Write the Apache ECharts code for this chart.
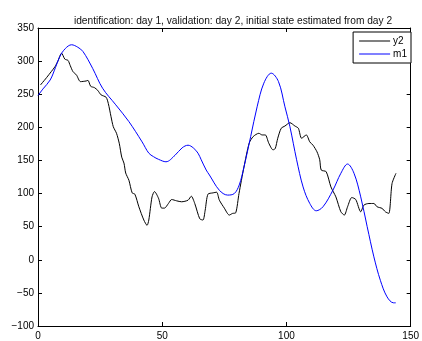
<!DOCTYPE html>
<html>
<head>
<meta charset="utf-8">
<script src="https://cdn.jsdelivr.net/npm/echarts@6/dist/echarts.min.js"></script>
<style>
  html, body { margin: 0; padding: 0; background: #fff; }
  #chart { width: 422px; height: 341px; }
</style>
</head>
<body>
<div id="chart"></div>
<script>
// Measured output y2 (day 2)
const y2X = [1, 3, 4.9, 6.9, 8, 9.5, 10.8, 12.1, 13, 14.1, 15.5, 17.1, 19.4, 20.1, 21.2, 22.7, 24, 25.4, 27.4, 28.3,
  29.4, 30.3, 31.6, 32.7, 33.7, 34.6, 35.3, 36.6, 37.9, 39, 40.6, 42.6, 43.9, 44.6, 45.9, 46.9, 48.5, 49.8, 50.9, 52.5,
  53.8, 55.8, 57.8, 60.4, 61.7, 63.1, 65.1, 66.4, 67.3, 68.4, 70.4, 71.9, 73, 75, 77, 78.3, 79.6, 80.9, 82.9, 85,
  86.6, 88.9, 90.2, 91.5, 92.9, 94.6, 95.5, 96.5, 97.9, 99.4, 101.4, 103.4, 104.8, 106.1, 108, 109.4, 110.7, 112.3, 113.4, 114,
  116, 117.9, 119.9, 121.9, 123.3, 124.6, 126.3, 127.9, 129.9, 131.2, 133.2, 135.2, 136.5, 138.5, 139.8, 141.2, 142.5, 144.1];
const y2Y = [264, 273, 282, 292, 300, 312, 303, 301, 293, 284, 279, 269, 270, 271, 262, 260, 256, 249, 245.5, 236,
  216, 201, 191, 176, 155, 146, 131, 120, 101, 99, 80, 60, 52, 60, 95, 103, 93, 78, 78, 85,
  91, 89, 87.6, 90, 96, 85, 62, 60, 75, 99, 101, 102, 90, 78, 67.5, 70, 71, 100, 140, 176,
  186, 191, 188.5, 188.5, 176, 166, 168, 183.5, 198.6, 202, 207, 202, 198.6, 183.5, 188.5, 178, 173, 163, 151, 135.5,
  133, 110, 95, 72.5, 67.5, 80, 94, 91, 72.5, 82.6, 85, 85, 80, 77.6, 72.5, 70, 115, 130.6];

// Simulated model output m1
const m1X = [0, 2, 4.9, 7, 8.8, 11, 13.5, 16, 18.1, 22, 26, 31.3, 36.6, 41.9, 44.6, 46.5, 48.5, 51.5, 55.2, 58,
  60.4, 62.5, 64.4, 65.7, 67.7, 69, 73, 76.3, 79, 81, 82.9, 85.6, 88.2, 90.9, 93.9, 96.8, 99.4, 101.4, 104.1, 106.7,
  109.4, 112, 114.7, 118.7, 121.9, 124.6, 127.2, 129.9, 132.5, 135.2, 137.8, 140.5, 143.1, 144];
const m1Y = [248, 258, 271.5, 290, 307, 319, 324.7, 321, 314.5, 289, 259, 234, 208.6, 178, 161, 155.7, 151.7, 148, 158, 169,
  173, 169, 161, 151, 135.5, 128, 105, 97.7, 100, 113, 140, 186, 231, 266.7, 281.8, 269, 231, 201, 151, 110,
  85, 74, 80, 105, 130.6, 144.6, 130.6, 95, 50, 4.4, -31, -56, -65, -65];

const xTicks = [0, 50, 100, 150];
const yTicks = [-100, -50, 0, 50, 100, 150, 200, 250, 300, 350];

const pairs = (xs, ys) => xs.map((x, i) => [x, ys[i]]);
const FONT = "'Liberation Sans', Arial, Helvetica, sans-serif";

const chart = echarts.init(document.getElementById('chart'), null, { renderer: 'canvas' });

const baseAxis = {
  type: 'value',
  axisLine: { show: true, onZero: false, lineStyle: { color: '#000', width: 1 } },
  axisTick: { show: true, inside: true, length: 4, lineStyle: { color: '#000' } },
  splitLine: { show: false },
  axisLabel: { color: '#000', fontSize: 10, fontFamily: FONT }
};

chart.setOption({
  animation: false,
  backgroundColor: '#fff',
  title: {
    text: 'identification: day 1, validation: day 2, initial state estimated from day 2',
    left: 228, textAlign: 'center', top: 11,
    textStyle: { fontSize: 10.2, fontWeight: 'normal', color: '#111', fontFamily: FONT }
  },
  grid: { left: 38, right: 6, top: 28, bottom: 15, containLabel: false },
  xAxis: [
    Object.assign({}, baseAxis, {
      position: 'bottom', min: xTicks[0], max: xTicks[xTicks.length - 1], interval: 50,
      axisLabel: Object.assign({}, baseAxis.axisLabel, { margin: 5 })
    }),
    Object.assign({}, baseAxis, {
      position: 'top', min: xTicks[0], max: xTicks[xTicks.length - 1], interval: 50,
      axisLabel: { show: false }
    })
  ],
  yAxis: [
    Object.assign({}, baseAxis, {
      position: 'left', min: yTicks[0], max: yTicks[yTicks.length - 1], interval: 50,
      axisLabel: Object.assign({}, baseAxis.axisLabel, {
        margin: 4,
        formatter: v => String(v).replace('-', '\u2212')
      })
    }),
    Object.assign({}, baseAxis, {
      position: 'right', min: yTicks[0], max: yTicks[yTicks.length - 1], interval: 50,
      axisLabel: { show: false }
    })
  ],
  legend: {
    orient: 'vertical', right: 11, top: 32,
    padding: [3, 4, 3, 6], itemGap: 1, itemWidth: 31, itemHeight: 1,
    icon: 'rect',
    borderColor: '#000', borderWidth: 1, backgroundColor: '#fff',
    textStyle: { fontSize: 10, lineHeight: 12, color: '#000', fontFamily: FONT, padding: [0, 0, 0, -2] },
    data: ['y2', 'm1']
  },
  series: [
    {
      name: 'y2', type: 'line', data: pairs(y2X, y2Y),
      symbol: 'none', smooth: 0.25,
      lineStyle: { color: '#000', width: 1 }, itemStyle: { color: '#000' }
    },
    {
      name: 'm1', type: 'line', data: pairs(m1X, m1Y),
      symbol: 'none', smooth: 0.35,
      lineStyle: { color: '#0000ff', width: 1 }, itemStyle: { color: '#0000ff' }
    }
  ]
});
</script>
</body>
</html>
